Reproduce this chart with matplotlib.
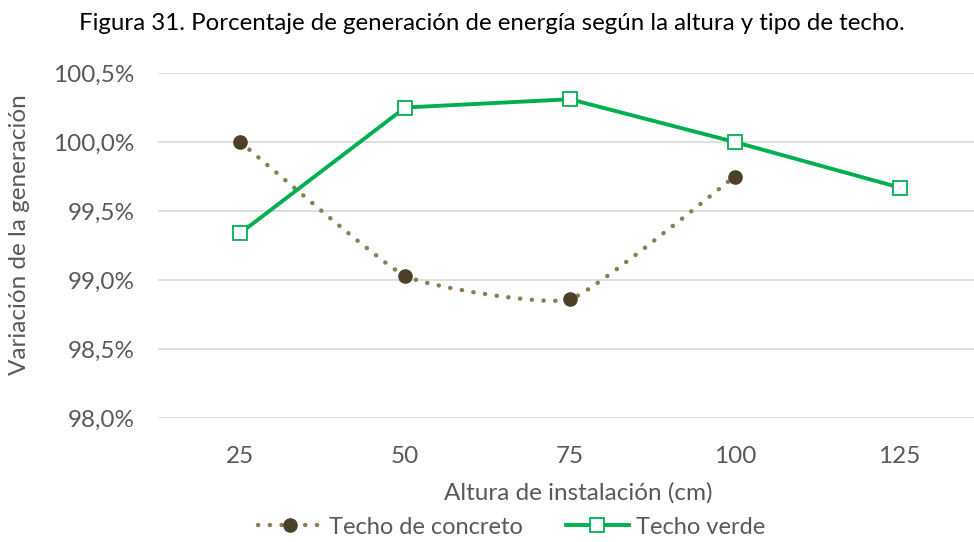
import matplotlib
matplotlib.use("Agg")
import matplotlib.pyplot as plt
from matplotlib.path import Path
from matplotlib.patches import PathPatch
from matplotlib.lines import Line2D
import numpy as np

categories = ["25", "50", "75", "100", "125"]
concreto = [100.0, 99.03, 98.86, 99.75]
verde = [99.34, 100.25, 100.31, 100.0, 99.67]
yticks = [98.0, 98.5, 99.0, 99.5, 100.0, 100.5]
ytick_labels = ["98,0%", "98,5%", "99,0%", "99,5%", "100,0%", "100,5%"]

plt.rcParams['font.family'] = ['Lato', 'DejaVu Sans']
grey = '#595959'
c_line = '#8c7f55'
c_mark = '#4a4128'
g_col = '#00b050'
dot_style = (0, (0.05, 2.6))

fig = plt.figure(figsize=(9.74, 5.42), dpi=100)
ax = fig.add_axes([158/974, 1-418/542, (982-158)/974, (418-73)/542])

# lightly smoothed dotted line for concreto
xs = np.arange(len(concreto), dtype=float)
ys = np.array(concreto)
verts = [(xs[0], ys[0])]
codes = [Path.MOVETO]
n = len(xs)
for i in range(n - 1):
    p0 = np.array([xs[max(i-1, 0)], ys[max(i-1, 0)]])
    p1 = np.array([xs[i], ys[i]])
    p2 = np.array([xs[i+1], ys[i+1]])
    p3 = np.array([xs[min(i+2, n-1)], ys[min(i+2, n-1)]])
    c1 = p1 + (p2 - p0) / 14
    c2 = p2 - (p3 - p1) / 14
    verts += [tuple(c1), tuple(c2), tuple(p2)]
    codes += [Path.CURVE4] * 3
patch = PathPatch(Path(verts, codes), facecolor='none', edgecolor=c_line,
                  lw=3.2, linestyle=dot_style, capstyle='round', zorder=3)
ax.add_patch(patch)
ax.plot(xs, ys, linestyle='none', marker='o', ms=9.5, color=c_mark, zorder=4)

ax.plot(np.arange(len(verde)), verde, color=g_col, lw=2.8, marker='s', ms=10,
        markerfacecolor='white', markeredgecolor=g_col, markeredgewidth=1.3, zorder=5)

ax.set_xlim(-0.5, 4.5)
ax.set_ylim(98.0, 100.5)
ax.set_xticks(range(len(categories)))
ax.set_xticklabels(categories)
ax.set_yticks(yticks)
ax.set_yticklabels(ytick_labels)
ax.yaxis.grid(True, color='#d9d9d9', lw=1.2)
ax.set_axisbelow(True)
for s in ax.spines.values():
    s.set_visible(False)
ax.tick_params(length=0, labelsize=17.5, colors=grey)
ax.tick_params(axis='x', pad=20)
ax.tick_params(axis='y', pad=17)
ax.set_xlabel("Altura de instalación (cm)", fontsize=17.5, color=grey)
ax.xaxis.set_label_coords((578-158)/(982-158), -(482-418)/(418-73))
ax.set_ylabel("Variación de la generación", fontsize=17.5, color=grey)
ax.yaxis.set_label_coords(-(158-30)/(982-158), 1-(235-73)/(418-73))

fig.text(0.505, 1-24/542, "Figura 31. Porcentaje de generación de energía según la altura y tipo de techo.",
         ha='center', va='center', fontsize=17.3, color='black')

h1 = Line2D([], [], color=c_line, lw=3.2, linestyle=dot_style, dash_capstyle='round',
            marker='o', ms=9.5, markerfacecolor=c_mark, markeredgecolor=c_mark)
h2 = Line2D([], [], color=g_col, lw=2.8, marker='s', ms=10, markerfacecolor='white',
            markeredgecolor=g_col, markeredgewidth=1.3)
leg = fig.legend([h1, h2], ["Techo de concreto", "Techo verde"], loc='center',
                 bbox_to_anchor=(512/974, 1-527/542), ncol=2, frameon=False,
                 fontsize=17, handlelength=2.7, columnspacing=1.8, handletextpad=0.3)
for t in leg.get_texts():
    t.set_color(grey)

fig.savefig("out.png", dpi=100)
